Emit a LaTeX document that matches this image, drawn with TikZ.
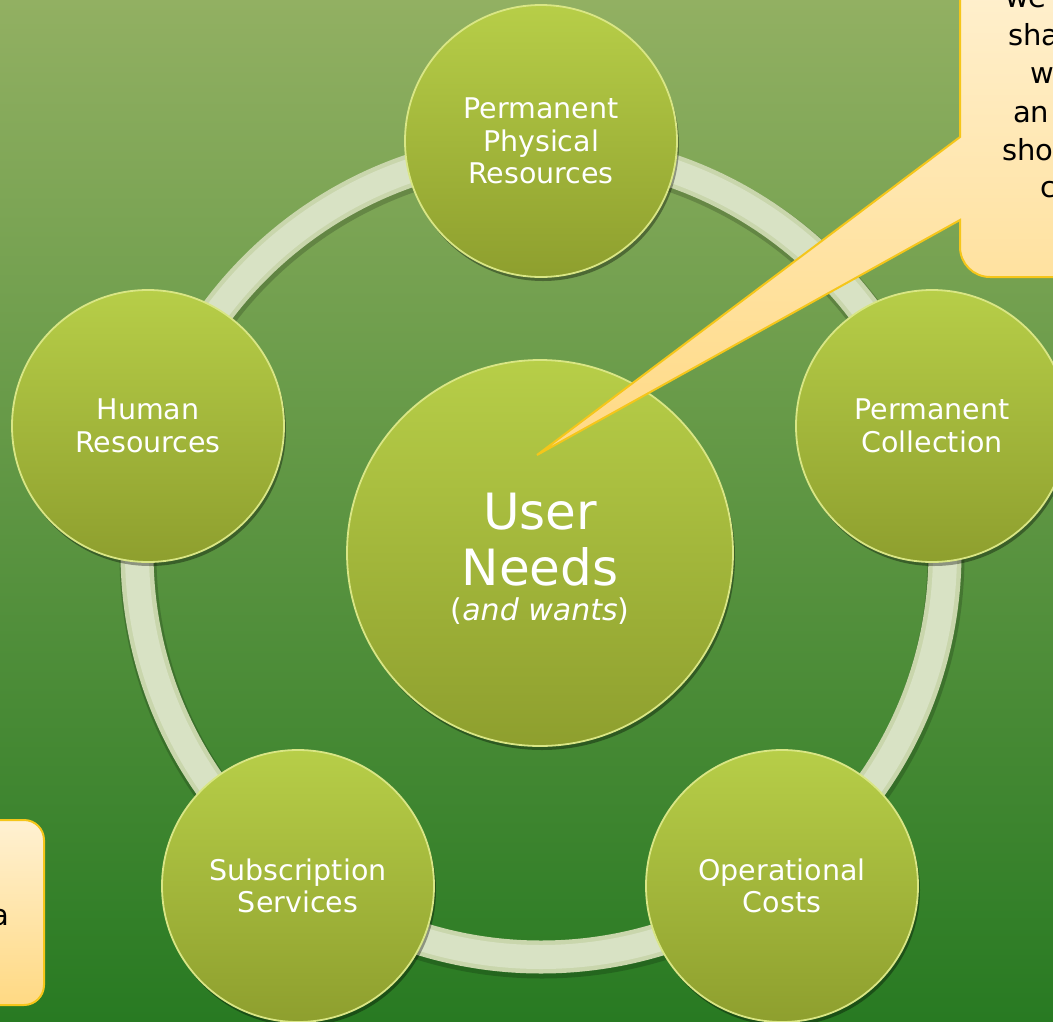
\documentclass[tikz,border=0pt]{standalone}
\usepackage{fontspec}
\setmainfont{DejaVu Sans}
\usetikzlibrary{shadows}
\definecolor{bgtop}{HTML}{92B062}
\definecolor{bgmid}{HTML}{5C9848}
\definecolor{bgbot}{HTML}{287A22}
\definecolor{ringc}{HTML}{C9D6AC}
\definecolor{ringl}{HTML}{D8E2C4}
\definecolor{ctop}{HTML}{B7CE48}
\definecolor{cbot}{HTML}{8E9F2E}
\definecolor{crim}{HTML}{D9E685}
\definecolor{caltop}{HTML}{FFF1D2}
\definecolor{calbot}{HTML}{FFD983}
\definecolor{calrim}{HTML}{F5C61A}
\tikzset{
  bubble/.style={circle, minimum size=272pt, inner sep=0pt, top color=ctop, bottom color=cbot,
    draw=crim, line width=1.8pt, text=white, align=center,
    font=\fontsize{28.5}{32.5}\selectfont,
    drop shadow={shadow xshift=2pt, shadow yshift=-4pt, opacity=.35, fill=black}},
  bigbubble/.style={bubble, minimum size=386pt},
  bigtext/.style={text=white, align=center, inner sep=0pt, font=\fontsize{50}{56}\selectfont},
  callout/.style={top color=caltop, bottom color=calbot, draw=calrim, line width=2pt},
  caltext/.style={anchor=base west, inner sep=0pt, text=black, font=\fontsize{29}{34}\selectfont}
}
\begin{document}
\begin{tikzpicture}[x=1pt,y=-1pt]
\useasboundingbox (0,0) rectangle (1053,1021);
\clip (0,0) rectangle (1053,1021);
\shade[top color=bgtop, middle color=bgmid, bottom color=bgbot] (0,0) rectangle (1053,1021);
% ring
\draw[line width=37pt, color=black, opacity=.18] (542,556) circle (404pt);
\draw[line width=33pt, color=ringc] (541,553) circle (404pt);
\draw[line width=24pt, color=ringl] (541,553) circle (404pt);
% outer circles
\node[bubble] (ppr) at (541,141) {Permanent\\Physical\\Resources};
\node[bubble] (hr) at (148,426) {Human\\Resources};
\node[bubble] (pc) at (932,426) {Permanent\\Collection};
\node[bubble] (ss) at (298,886) {Subscription\\Services};
\node[bubble] (oc) at (782,886) {Operational\\Costs};
% centre
\node[bigbubble] (un) at (540,553) {};
\node[bigtext] (untext) at (540,559) {User\\Needs\\[-21pt]{\fontsize{30}{36}\selectfont(\textit{and wants})}};
% callout top right
\coordinate (tip) at (537,455);
\shade[callout] (960,137) -- (tip) -- (960,220) [rounded corners=30pt] -- (960,277) [rounded corners=0pt] -- (1100,277) -- (1100,-40) -- (960,-40) -- cycle;
\node[caltext] (t1) at (1005,7) {we};
\node[caltext] (t2) at (1008,45) {sha};
\node[caltext] (t3) at (1030,83) {w};
\node[caltext] (t4) at (1013,122) {an};
\node[caltext] (t5) at (1002,160) {sho};
\node[caltext] (t6) at (1040,197) {c};
% callout bottom left
\shade[callout, rounded corners=20pt] (-40,820) rectangle (44,1005);
\node[caltext] (b1) at (-9,925) {a};
\end{tikzpicture}
\end{document}
